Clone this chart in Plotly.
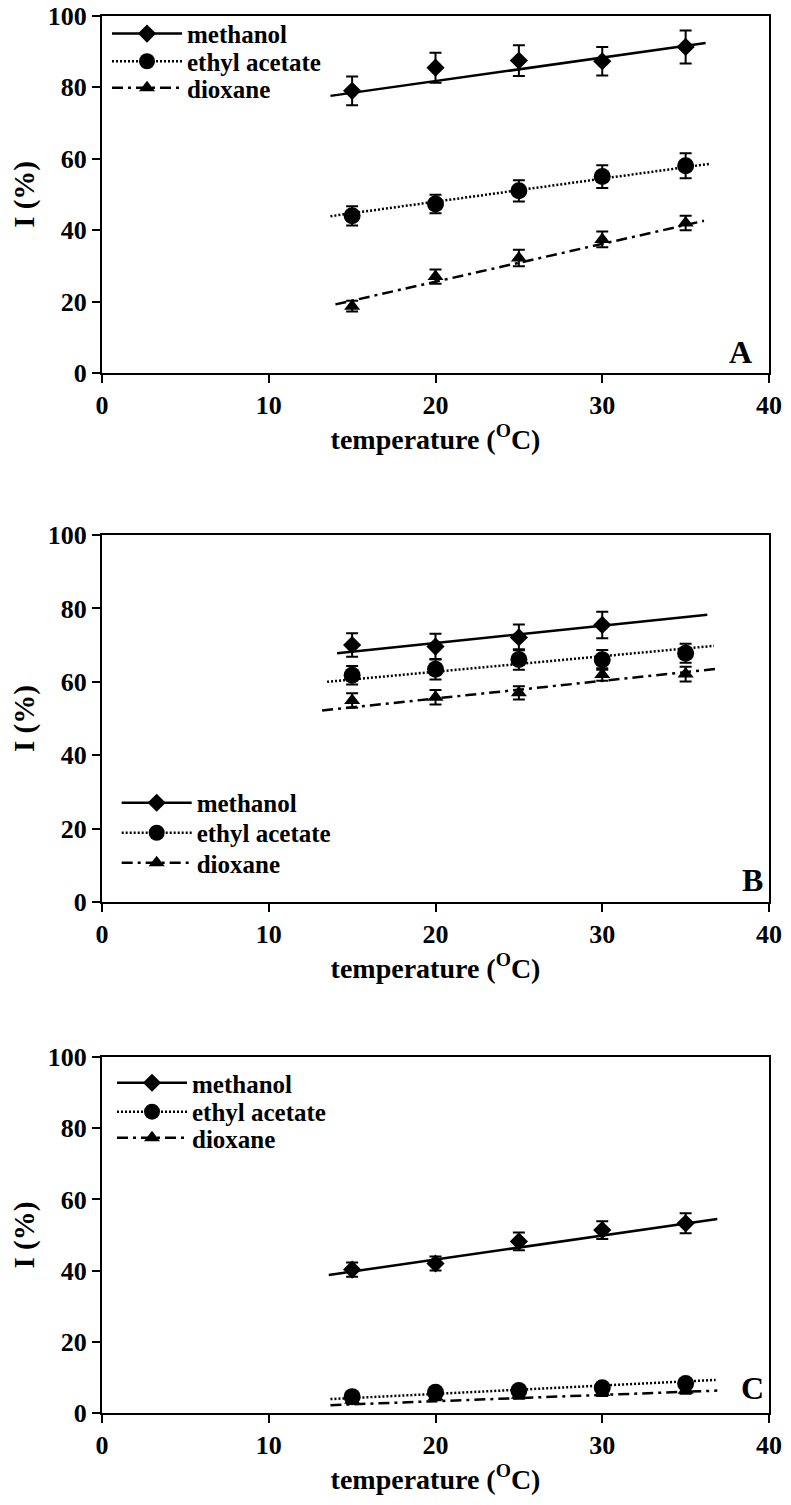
import plotly.graph_objects as go

temps = [15, 20, 25, 30, 35]
series_names = ["methanol", "ethyl acetate", "dioxane"]

# Panel A
A_methanol = [79.0, 85.5, 87.5, 87.3, 91.3]
A_methanol_err = [4.0, 4.2, 4.3, 4.0, 4.6]
A_ethyl = [44.0, 47.3, 51.0, 55.0, 58.0]
A_ethyl_err = [2.7, 2.6, 3.0, 3.2, 3.5]
A_dioxane = [18.7, 27.0, 32.2, 37.4, 42.0]
A_dioxane_err = [1.5, 2.0, 2.3, 2.2, 2.0]
A_trend_methanol_x = [13.7, 36.2]
A_trend_methanol_y = [77.6, 92.4]
A_trend_ethyl_x = [13.7, 36.5]
A_trend_ethyl_y = [43.9, 58.6]
A_trend_dioxane_x = [14.0, 36.1]
A_trend_dioxane_y = [19.2, 42.6]

# Panel B
B_methanol = [70.0, 69.6, 72.1, 75.5, None]
B_methanol_err = [3.2, 3.5, 3.5, 3.6, None]
B_ethyl = [61.8, 63.4, 66.1, 66.0, 67.8]
B_ethyl_err = [2.5, 2.8, 2.8, 2.7, 2.6]
B_dioxane = [54.9, 55.8, 57.0, 62.0, 62.1]
B_dioxane_err = [2.0, 2.0, 1.8, 1.7, 2.0]
B_trend_methanol_x = [14.1, 36.3]
B_trend_methanol_y = [67.8, 78.3]
B_trend_ethyl_x = [13.5, 36.7]
B_trend_ethyl_y = [60.0, 69.8]
B_trend_dioxane_x = [13.2, 36.8]
B_trend_dioxane_y = [52.2, 63.5]

# Panel C
C_methanol = [40.3, 42.0, 48.2, 51.4, 53.3]
C_methanol_err = [2.0, 2.0, 2.5, 2.5, 2.8]
C_ethyl = [4.6, 5.8, 6.3, 7.1, 8.3]
C_ethyl_err = [1.0, 1.0, 1.0, 1.0, 1.0]
C_dioxane = [3.6, 4.6, 5.0, 5.8, 6.4]
C_dioxane_err = [1.0, 1.0, 1.0, 1.0, 1.0]
C_trend_methanol_x = [13.6, 36.9]
C_trend_methanol_y = [38.8, 54.5]
C_trend_ethyl_x = [13.7, 36.8]
C_trend_ethyl_y = [3.9, 9.3]
C_trend_dioxane_x = [13.7, 36.9]
C_trend_dioxane_y = [2.2, 6.3]

x_ticks = [0, 10, 20, 30, 40]
y_ticks = [0, 20, 40, 60, 80, 100]
panel_letters = ["A", "B", "C"]

FONT = "Liberation Serif"
symbols = ["diamond", "circle", "triangle-up"]
msizes = [14, 17, 14]
dashes = ["solid", "2px,2px", "11px,5px,3px,5px"]

panels = [
    dict(vals=[A_methanol, A_ethyl, A_dioxane], errs=[A_methanol_err, A_ethyl_err, A_dioxane_err],
         tx=[A_trend_methanol_x, A_trend_ethyl_x, A_trend_dioxane_x],
         ty=[A_trend_methanol_y, A_trend_ethyl_y, A_trend_dioxane_y]),
    dict(vals=[B_methanol, B_ethyl, B_dioxane], errs=[B_methanol_err, B_ethyl_err, B_dioxane_err],
         tx=[B_trend_methanol_x, B_trend_ethyl_x, B_trend_dioxane_x],
         ty=[B_trend_methanol_y, B_trend_ethyl_y, B_trend_dioxane_y]),
    dict(vals=[C_methanol, C_ethyl, C_dioxane], errs=[C_methanol_err, C_ethyl_err, C_dioxane_err],
         tx=[C_trend_methanol_x, C_trend_ethyl_x, C_trend_dioxane_x],
         ty=[C_trend_methanol_y, C_trend_ethyl_y, C_trend_dioxane_y]),
]

domains = [[0.7413, 0.9958], [0.3642, 0.6258], [0.0, 0.2537]]
# one legend per entry so rows can be placed like the original
legend_x = [0.0075, 0.022, 0.015]
legend_rows_y = [[0.9830, 0.9633, 0.9444], [0.4348, 0.4134, 0.3920], [0.2352, 0.2146, 0.1960]]
letter_pos = [(38.3, 6.0), (39.0, 6.0), (39.0, 7.0)]

fig = go.Figure()
layout_upd = {}
for p, panel in enumerate(panels):
    sfx = "" if p == 0 else str(p + 1)
    xa, ya = "x" + sfx, "y" + sfx
    for s in range(3):
        k = p * 3 + s + 1
        leg = "legend" if k == 1 else "legend" + str(k)
        fig.add_trace(go.Scatter(x=panel["tx"][s], y=panel["ty"][s], mode="lines",
                                 line=dict(color="black", width=2.5, dash=dashes[s]),
                                 xaxis=xa, yaxis=ya, showlegend=False, hoverinfo="skip"))
        fig.add_trace(go.Scatter(x=temps, y=panel["vals"][s], mode="markers",
                                 marker=dict(symbol=symbols[s], size=msizes[s], color="black"),
                                 error_y=dict(type="data", array=panel["errs"][s], visible=True,
                                              color="black", thickness=2, width=6),
                                 xaxis=xa, yaxis=ya, showlegend=False))
        fig.add_trace(go.Scatter(x=[None], y=[None], mode="lines+markers", name=series_names[s],
                                 line=dict(color="black", width=2.5, dash=dashes[s]),
                                 marker=dict(symbol=symbols[s], size=msizes[s], color="black"),
                                 xaxis=xa, yaxis=ya, legend=leg, showlegend=True))
        layout_upd[leg] = dict(x=legend_x[p], y=legend_rows_y[p][s], xanchor="left", yanchor="middle",
                               bgcolor="rgba(0,0,0,0)", itemwidth=70, tracegroupgap=0,
                               font=dict(family=FONT, size=25, color="black", weight="bold"))

    axis_common = dict(showline=True, linecolor="black", linewidth=2, mirror=True,
                       ticks="outside", ticklen=8, tickwidth=2, tickcolor="black",
                       showgrid=False, zeroline=False, automargin=False, ticklabeloverflow="allow",
                       tickfont=dict(family=FONT, size=26, color="black", weight="bold"))
    layout_upd["xaxis" + sfx] = dict(axis_common, range=[0, 40], tickvals=x_ticks, anchor=ya, domain=[0, 1],
                                     title=dict(text="temperature (<sup>O</sup>C)", standoff=1,
                                                font=dict(family=FONT, size=28, color="black", weight="bold")))
    layout_upd["yaxis" + sfx] = dict(axis_common, range=[0, 100], tickvals=y_ticks, anchor=xa, domain=domains[p],
                                     title=dict(text="I (%)", standoff=10,
                                                font=dict(family=FONT, size=29, color="black", weight="bold")))
    fig.add_annotation(x=letter_pos[p][0], y=letter_pos[p][1], xref=xa, yref=ya,
                       text=panel_letters[p], showarrow=False, xanchor="center", yanchor="middle",
                       font=dict(family=FONT, size=32, color="black", weight="bold"))

fig.update_layout(layout_upd)
# the page body adds an 8px offset, so the figure is 8px smaller and margins shifted accordingly
fig.update_layout(width=783, height=1497, margin=dict(l=94, r=22, t=2, b=92),
                  paper_bgcolor="white", plot_bgcolor="white", showlegend=True)

fig.write_html("out.html")
